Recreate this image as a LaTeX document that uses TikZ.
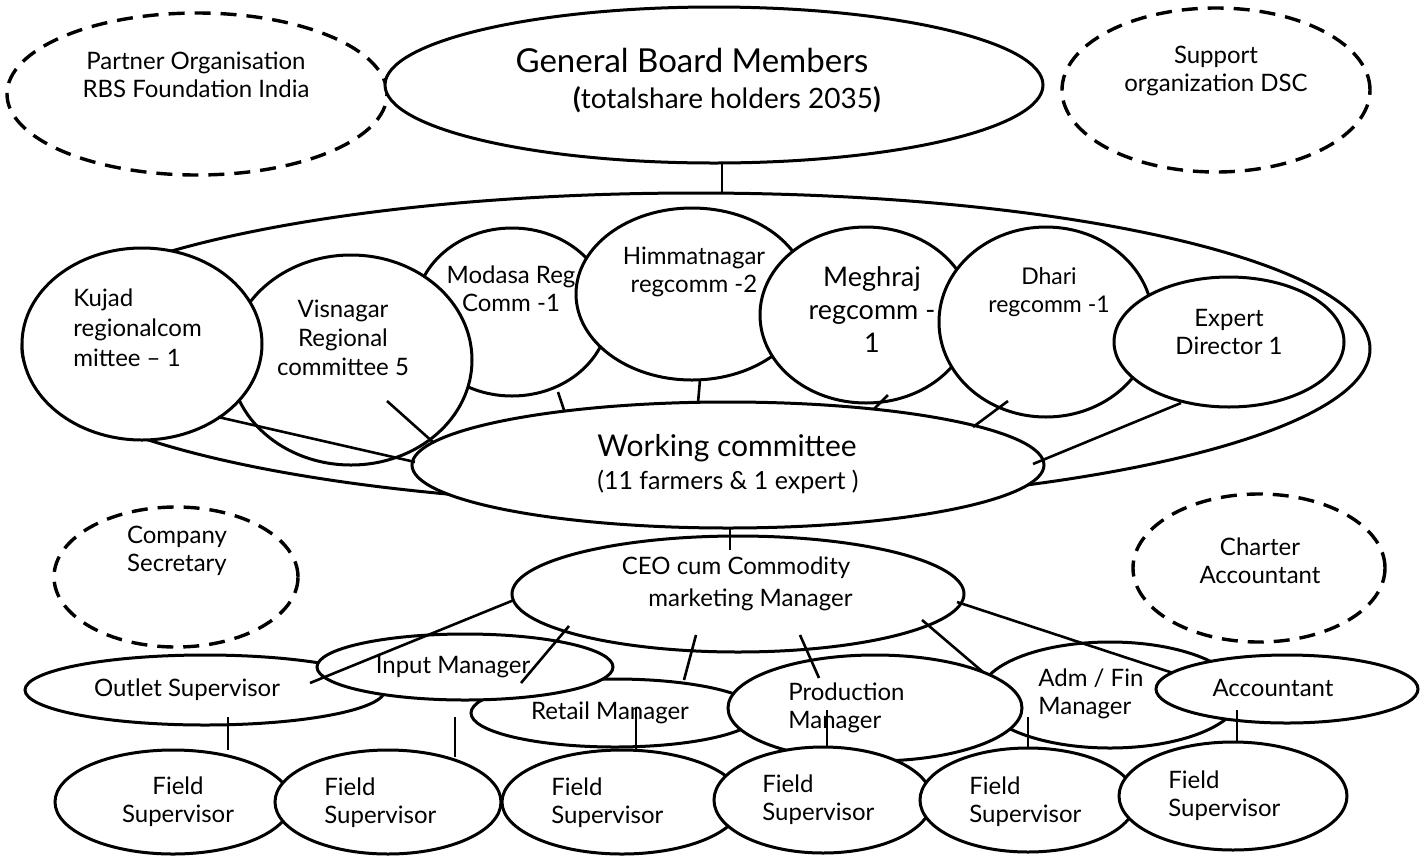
\documentclass[tikz,border=0pt]{standalone}
\usepackage{fontspec}
\setmainfont{Lato}
\usetikzlibrary{shapes.geometric}
\tikzset{
  ov/.style 2 args={ellipse, draw, fill=white, line width=1.5pt, inner sep=0pt, outer sep=0pt, minimum width=#1pt, minimum height=#2pt},
  dov/.style 2 args={ov={#1}{#2}, dash pattern=on 8pt off 5pt, line width=1.7pt},
  tx/.style={inner sep=0pt, align=center, font=\fontsize{12}{14}\selectfont},
  txl/.style={tx, align=left, anchor=west},
  ln/.style={line width=1.3pt}
}
\begin{document}
\begin{tikzpicture}[x=0.5pt,y=-0.5pt]
\useasboundingbox (0,0) rectangle (1426,858);
% dashed outside bodies
\node[dov={190}{81}] (partner) at (197,94) {};
\node[tx] (partnert) at (196,75) {Partner Organisation\\RBS Foundation India};
\node[dov={154}{82}] (support) at (1216,90) {};
\node[tx] (supportt) at (1216,71) {Support\\organization DSC};
\node[dov={122}{70}] (secr) at (176,577) {};
\node[tx] (secrt) at (177,551) {Company\\Secretary};
\node[dov={126}{74}] (charter) at (1259,568) {};
\node[tx] (chartert) at (1260,561) {Charter\\Accountant};
% general board
\node[ov={329}{78}] (gbm) at (714,85) {};
\node[tx, font=\fontsize{16.5}{18}\selectfont] (gbmt1) at (692,60) {General Board Members};
\node[tx, font=\fontsize{14}{16}\selectfont] (gbmt2) at (727,100) {\textbf{(}totalshare holders 2035\textbf{)}};
% big ellipse
\node[ov={674}{156}] (big) at (696,349) {};
\coordinate (gbmb) at (722,163);
\coordinate (bigt) at (722,193);
\draw[ln] (gbmb) -- (bigt);
% regional committees
\node[ov={97}{84}] (modasa) at (512,312) {};
\node[tx] (modasat) at (511,289) {Modasa Reg\\Comm -1};
\node[ov={121}{105}] (visnagar) at (351,360) {};
\node[tx, font=\fontsize{12}{14.5}\selectfont] (visnagart) at (343,338) {Visnagar\\Regional\\committee 5};
\node[ov={120}{96}] (kujad) at (142,344) {};
\node[txl, font=\fontsize{12}{15}\selectfont] (kujadt) at (73,328) {Kujad\\regionalcom\\mittee -- 1};
\node[ov={116}{86}] (himmat) at (692,294) {};
\node[tx] (himmatt) at (694,272) {Himmatnagar\\regcomm -2};
\node[ov={106}{88}] (meghraj) at (866,315) {};
\node[tx, font=\fontsize{13.5}{16.5}\selectfont] (meghrajt) at (872,310) {Meghraj\\regcomm -\\1};
\node[ov={107}{95}] (dhari) at (1046,322) {};
\node[tx, font=\fontsize{11.5}{14}\selectfont] (dharit) at (1049,292) {Dhari\\regcomm -1};
\node[ov={115}{65}] (expert) at (1229,342) {};
\node[tx] (expertt) at (1229,332) {Expert\\Director 1};
% working committee
\node[ov={316}{63}] (wc) at (728,465) {};
\node[tx, font=\fontsize{15}{17}\selectfont] (wct1) at (727,448) {Working committee};
\node[tx, font=\fontsize{12.5}{14}\selectfont] (wct2) at (728,482) {(11 farmers \& 1 expert )};
% committee connectors
\coordinate (k1) at (218,417); \coordinate (k2) at (415,462);
\coordinate (v1) at (387,401); \coordinate (v2) at (434,443);
\coordinate (m1) at (558,392); \coordinate (m2) at (564,410);
\coordinate (h1) at (700,380); \coordinate (h2) at (698,403);
\coordinate (g1) at (888,395); \coordinate (g2) at (874,409);
\coordinate (d1) at (1008,401); \coordinate (d2) at (973,427);
\coordinate (e1) at (1181,403); \coordinate (e2) at (1033,464);
\draw[ln] (k1) -- (k2);
\draw[ln] (v1) -- (v2);
\draw[ln] (m1) -- (m2);
\draw[ln] (h1) -- (h2);
\draw[ln] (g1) -- (g2);
\draw[ln] (d1) -- (d2);
\draw[ln] (e1) -- (e2);
% CEO
\node[ov={226}{58}] (ceo) at (738,594) {};
\node[tx, font=\fontsize{12}{16}\selectfont] (ceot) at (736,584) {CEO cum Commodity\\\hspace*{1.2em}marketing Manager};
\coordinate (wcb) at (730,528); \coordinate (ceoi) at (730,550);
\draw[ln] (wcb) -- (ceoi);
% managers
\node[ov={180}{35}] (outlet) at (205,690) {};
\node[tx] (outlett) at (187,690) {Outlet Supervisor};
\node[ov={144}{34}] (retail) at (615,713) {};
\node[tx] (retailt) at (610,713) {Retail Manager};
\node[ov={148}{33}] (input) at (465,667) {};
\node[tx] (inputt) at (453,667) {Input Manager};
\node[ov={130}{53}] (adm) at (1110,695) {};
\node[txl] (admt) at (1038,694) {Adm / Fin\\Manager};
\node[ov={131}{34}] (acc) at (1287,689) {};
\node[tx] (acct) at (1273,688) {Accountant};
\node[ov={147}{53}] (prod) at (875,708) {};
\node[txl] (prodt) at (788,708) {Production\\Manager};
% field supervisors
\node[ov={118}{52}] (fs1) at (173,802) {};
\node[tx] (fs1t) at (178,802) {Field\\Supervisor};
\node[ov={113}{52}] (fs2) at (388,802) {};
\node[txl] (fs2t) at (324,803) {Field\\Supervisor};
\node[ov={120}{52}] (fs3) at (622,802) {};
\node[txl] (fs3t) at (551,803) {Field\\Supervisor};
\node[ov={109}{53}] (fs4) at (823,800) {};
\node[txl] (fs4t) at (762,800) {Field\\Supervisor};
\node[ov={108}{52}] (fs5) at (1028,800) {};
\node[txl] (fs5t) at (969,802) {Field\\Supervisor};
\node[ov={114}{54}] (fs6) at (1233,796) {};
\node[txl] (fs6t) at (1168,796) {Field\\Supervisor};
% CEO connectors
\coordinate (c1) at (514,600); \coordinate (o1) at (310,683);
\coordinate (c2) at (569,626); \coordinate (i1) at (521,683);
\coordinate (c3) at (696,635); \coordinate (r1) at (684,680);
\coordinate (c4) at (800,635); \coordinate (p1) at (819,678);
\coordinate (c5) at (922,620); \coordinate (a1) at (983,672);
\coordinate (c6) at (957,602); \coordinate (ac1) at (1173,673);
\draw[ln] (c1) -- (o1);
\draw[ln] (c2) -- (i1);
\draw[ln] (c3) -- (r1);
\draw[ln] (c4) -- (p1);
\draw[ln] (c5) -- (a1);
\draw[ln] (c6) -- (ac1);
% manager to field supervisor connectors
\coordinate (ob) at (228,717); \coordinate (f1t) at (228,750);
\coordinate (ib) at (455,717); \coordinate (f2t) at (455,757);
\coordinate (rb) at (636,708); \coordinate (f3t) at (636,750);
\coordinate (pb) at (827,710); \coordinate (f4t) at (827,747);
\coordinate (ab) at (1028,717); \coordinate (f5t) at (1028,748);
\coordinate (acb) at (1237,710); \coordinate (f6t) at (1237,742);
\draw[ln] (ob) -- (f1t);
\draw[ln] (ib) -- (f2t);
\draw[ln] (rb) -- (f3t);
\draw[ln] (pb) -- (f4t);
\draw[ln] (ab) -- (f5t);
\draw[ln] (acb) -- (f6t);
\end{tikzpicture}
\end{document}
